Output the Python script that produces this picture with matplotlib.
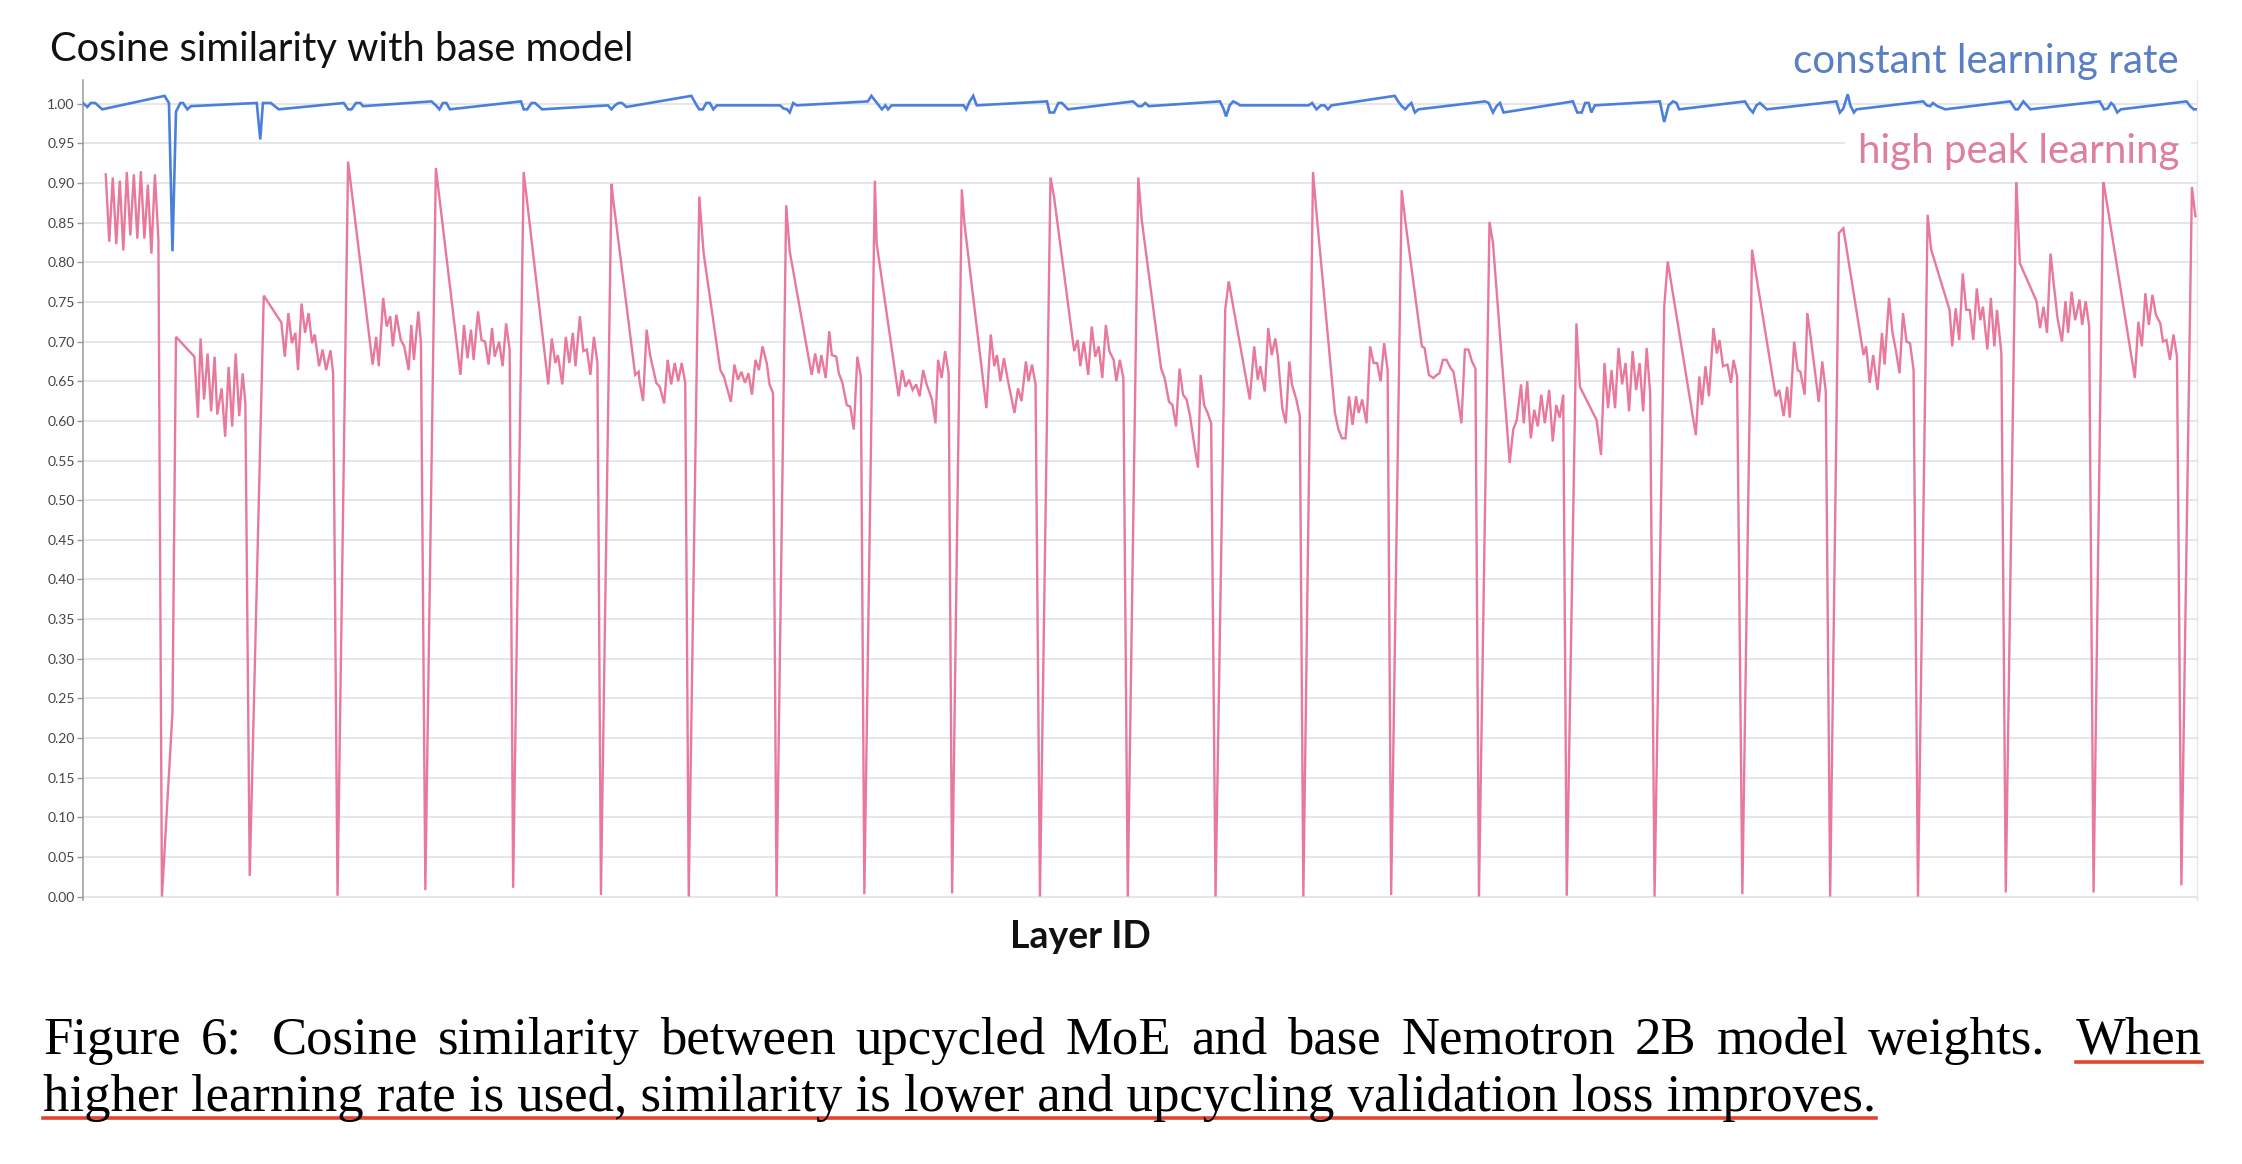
import matplotlib
matplotlib.use("Agg")
import numpy as np
import matplotlib.pyplot as plt
from matplotlib.lines import Line2D

# points per layer: (position inside the layer in 1/100 of a layer, cosine similarity)
# layer 0 is the part before the first layer boundary
pink_layers = [
    [(36, .911), (40, .826), (44, .907), (48, .823), (52, .903), (56, .815), (60, .914), (64, .834),
     (68, .911), (72, .830), (76, .915), (80, .830), (84, .898), (88, .811), (92, .911), (96, .828)],
    [(0, .000), (12, .232), (16, .706), (37, .681), (41, .604), (44, .704), (48, .627), (52, .685), (56, .612),
     (60, .681), (63, .608), (68, .641), (72, .580), (76, .668), (80, .593), (84, .685), (88, .606), (92, .660), (95, .622)],
    [(0, .026), (16, .758), (36, .724), (40, .681), (44, .736), (48, .698), (52, .711), (55, .664), (59, .748),
     (63, .711), (67, .736), (71, .698), (74, .709), (79, .669), (83, .690), (87, .664), (92, .689), (95, .660)],
    [(0, .001), (12, .927), (40, .671), (44, .706), (47, .669), (52, .755), (56, .719), (60, .732), (63, .694),
     (67, .734), (72, .702), (76, .694), (81, .664), (84, .721), (87, .677), (92, .738), (95, .698)],
    [(0, .008), (12, .919), (40, .658), (44, .721), (48, .679), (52, .715), (55, .677), (60, .738), (64, .702),
     (68, .700), (72, .671), (76, .717), (79, .681), (84, .700), (88, .669), (92, .723), (96, .690)],
    [(0, .011), (12, .914), (40, .646), (44, .704), (48, .673), (51, .683), (56, .646), (60, .706), (64, .673),
     (68, .711), (71, .669), (76, .732), (80, .688), (84, .690), (88, .658), (92, .706), (96, .673)],
    [(0, .002), (12, .899), (14, .879), (39, .658), (43, .662), (44, .650), (48, .625), (52, .715), (56, .683),
     (63, .648), (67, .643), (72, .622), (76, .677), (80, .646), (84, .673), (88, .650), (92, .673), (96, .648)],
    [(0, .000), (12, .883), (17, .811), (36, .664), (40, .656), (48, .624), (52, .671), (56, .652), (60, .662),
     (64, .648), (68, .660), (72, .633), (76, .677), (80, .664), (84, .694), (89, .672), (92, .646), (96, .635)],
    [(0, .000), (11, .872), (15, .814), (40, .658), (44, .685), (48, .660), (51, .683), (56, .654), (60, .713),
     (63, .683), (68, .681), (71, .660), (75, .648), (80, .620), (84, .618), (88, .589), (92, .681), (96, .656)],
    [(0, .003), (12, .903), (14, .824), (39, .631), (43, .664), (47, .643), (51, .652), (55, .639), (59, .646),
     (63, .631), (67, .664), (71, .646), (77, .627), (81, .597), (84, .677), (88, .654), (92, .688), (96, .660)],
    [(0, .004), (11, .892), (14, .849), (39, .616), (44, .709), (48, .669), (51, .683), (55, .650), (59, .679),
     (64, .648), (71, .610), (75, .641), (79, .625), (84, .675), (87, .650), (91, .671), (95, .646)],
    [(0, .000), (12, .907), (16, .883), (39, .688), (43, .702), (46, .669), (50, .700), (55, .658), (59, .719),
     (63, .681), (67, .694), (71, .654), (75, .721), (79, .688), (84, .677), (87, .650), (91, .677), (95, .654)],
    [(0, .000), (12, .907), (16, .853), (38, .666), (42, .654), (47, .624), (51, .620), (55, .593), (59, .666),
     (63, .633), (67, .627), (71, .606), (76, .568), (80, .541), (83, .658), (87, .620), (91, .610), (95, .597)],
    [(0, .000), (11, .740), (15, .776), (39, .627), (44, .694), (48, .652), (51, .669), (56, .637), (60, .717),
     (64, .683), (68, .704), (71, .681), (76, .616), (80, .597), (84, .675), (87, .646), (92, .627), (96, .606)],
    [(0, .000), (11, .914), (15, .862), (36, .610), (40, .589), (44, .578), (48, .578), (52, .631), (56, .595),
     (60, .631), (63, .610), (67, .627), (72, .597), (76, .694), (80, .673), (84, .673), (88, .650), (92, .698), (96, .664)],
    [(0, .002), (12, .891), (16, .853), (35, .694), (38, .692), (43, .658), (48, .654), (52, .658), (55, .660),
     (59, .677), (63, .677), (68, .666), (71, .662), (75, .635), (80, .597), (84, .690), (88, .690), (92, .675), (96, .666)],
    [(0, .000), (12, .851), (16, .824), (35, .547), (39, .589), (43, .601), (48, .646), (51, .597), (55, .650),
     (59, .578), (63, .614), (67, .593), (71, .633), (75, .597), (80, .639), (84, .574), (88, .620), (92, .604), (96, .633)],
    [(0, .001), (11, .723), (15, .643), (34, .601), (39, .557), (43, .673), (47, .616), (51, .664), (55, .616),
     (59, .692), (63, .646), (67, .673), (71, .612), (75, .688), (79, .639), (83, .673), (87, .612), (91, .692), (95, .635)],
    [(0, .000), (11, .744), (15, .801), (47, .582), (51, .656), (54, .620), (58, .669), (62, .631), (67, .717),
     (71, .685), (74, .702), (78, .669), (83, .671), (87, .648), (90, .677), (94, .656)],
    [(0, .003), (11, .816), (38, .631), (42, .639), (47, .606), (51, .643), (54, .604), (59, .700), (63, .664),
     (66, .662), (71, .633), (74, .736), (78, .704), (83, .660), (87, .624), (91, .675), (95, .637)],
    [(0, .000), (10, .837), (15, .843), (38, .683), (41, .694), (45, .648), (49, .683), (54, .639), (59, .711),
     (62, .671), (67, .755), (71, .711), (75, .688), (79, .660), (83, .736), (87, .700), (91, .698), (95, .664)],
    [(0, .000), (11, .860), (15, .816), (36, .740), (39, .694), (43, .742), (47, .702), (51, .786), (55, .740),
     (59, .740), (63, .702), (67, .767), (71, .727), (74, .744), (79, .690), (83, .755), (87, .694), (90, .740), (95, .685)],
    [(0, .005), (12, .905), (16, .799), (35, .751), (39, .717), (43, .744), (47, .711), (51, .811), (55, .769),
     (59, .729), (64, .700), (68, .751), (71, .711), (75, .763), (79, .727), (84, .753), (87, .721), (91, .751), (95, .719)],
    [(0, .005), (11, .904), (43, .681), (47, .654), (51, .725), (55, .694), (59, .761), (63, .721), (67, .759),
     (71, .734), (76, .723), (79, .700), (83, .702), (87, .677), (91, .709), (95, .681)],
    [(0, .014), (12, .895), (16, .858)],
]

blue_layers = [
    [(10, 1.001), (15, .996), (19, 1.001), (24, 1.001), (32, .993)],
    [(3, 1.010), (8, 1.001), (12, .814), (16, .990), (21, 1.001), (24, 1.001), (29, .993), (33, .997)],
    [(8, 1.001), (12, .955), (15, 1.001), (24, 1.001), (33, .993)],
    [(7, 1.001), (12, .993), (16, .993), (21, 1.001), (26, 1.001), (29, .997)],
    [(7, 1.003), (12, .998), (16, .993), (20, 1.001), (24, 1.001), (28, .993)],
    [(9, 1.003), (12, .993), (16, .993), (21, 1.001), (25, 1.001), (33, .993)],
    [(8, .998), (12, .993), (16, .998), (20, 1.001), (24, 1.001), (29, .996)],
    [(3, 1.010), (9, .998), (12, .993), (16, .993), (20, 1.001), (24, 1.001), (28, .993), (32, .998)],
    [(4, .998), (8, .994), (12, .993), (15, .989), (19, 1.001), (23, .998)],
    [(4, 1.003), (8, 1.010), (13, 1.003), (20, .993), (24, .998), (27, .993), (31, .998)],
    [(13, .998), (16, .993), (20, 1.003), (24, 1.010), (28, .998)],
    [(8, 1.003), (11, .989), (16, .989), (21, 1.001), (25, 1.001), (32, .993)],
    [(6, 1.003), (12, .997), (16, .997), (20, 1.001), (24, .997)],
    [(5, 1.003), (9, .994), (12, .984), (16, .998), (20, 1.003), (24, 1.001), (28, .998)],
    [(6, .998), (10, 1.001), (15, .993), (20, .998), (24, .998), (28, .993), (32, .998)],
    [(4, 1.010), (8, 1.003), (12, .997), (16, .993), (20, .998), (23, 1.001), (27, .989), (31, .993)],
    [(7, 1.003), (11, 1.001), (16, .989), (20, .997), (24, 1.001), (28, .989)],
    [(7, 1.003), (12, .989), (17, .989), (21, 1.001), (25, 1.001), (28, .989), (32, .998)],
    [(6, 1.003), (11, .977), (16, .998), (21, 1.003), (25, 1.001), (28, .993)],
    [(3, 1.003), (8, .994), (12, .989), (16, .998), (20, 1.001), (28, .993)],
    [(7, 1.003), (11, .989), (15, .994), (20, 1.012), (23, .998), (27, .989), (30, .993)],
    [(6, 1.003), (10, .998), (14, .997), (17, 1.001), (22, .997), (31, .993)],
    [(5, 1.003), (11, .993), (14, .993), (20, 1.003), (24, .998), (28, .993)],
    [(7, 1.003), (12, .993), (16, .994), (20, 1.001), (23, .998), (27, .989), (31, .993)],
    [(6, 1.003), (10, .997), (14, .993), (18, .993)],
]

title = "Cosine similarity with base model"
label_blue = "constant learning rate"
label_pink = "high peak learning"
xlabel = "Layer ID"
caption1 = ["Figure", "6:", "Cosine", "similarity", "between", "upcycled", "MoE", "and", "base",
            "Nemotron", "2B", "model", "weights.", "When"]
caption2 = "higher learning rate is used, similarity is lower and upcycling validation loss improves."

BLUE = "#4a80dc"
PINK = "#e8799b"


def flatten(layers):
    xs, ys = [], []
    for k, pts in enumerate(layers):
        for off, v in pts:
            xs.append(k + off / 100)
            ys.append(v)
    return xs, ys


W, H = 2242, 1164
fig = plt.figure(figsize=(W / 100, H / 100), dpi=100)
ax = fig.add_axes([83 / W, 1 - 899.7 / H, (2197 - 83) / W, (899.7 - 80) / H])

px, py = flatten(pink_layers)
bx, by = flatten(blue_layers)
ax.plot(px, py, color=PINK, lw=1.7, solid_joinstyle="miter", zorder=3)
ax.plot(bx, by, color=BLUE, lw=1.9, solid_joinstyle="miter", zorder=4)

ax.set_xlim(0.101, 24.178)
ax.set_ylim(-0.004, 1.03)
ax.set_yticks(np.arange(0, 1.001, 0.05))
ax.set_yticklabels([f"{v:.2f}" for v in np.arange(0, 1.001, 0.05)])
ax.set_xticks([])
ax.yaxis.grid(True, color="#e2e2e2", lw=1.2)
ax.set_axisbelow(True)
ax.tick_params(axis="y", length=4, width=1, color="#999999", pad=2,
               labelsize=10, labelcolor="#444444")
for lab in ax.get_yticklabels():
    lab.set_family("Lato")
ax.spines["top"].set_visible(False)
ax.spines["bottom"].set_visible(False)
ax.spines["left"].set_color("#9a9a9a")
ax.spines["left"].set_linewidth(1.1)
ax.spines["right"].set_color("#e6e6e6")
ax.spines["right"].set_linewidth(1.0)

fig.text(50 / W, 1 - 50 / H, title, family="Lato", fontsize=28.7, color="#111111",
         ha="left", va="center")
fig.text(2179 / W, 1 - 62 / H, label_blue, family="Lato", fontsize=29, color="#5a7fc3",
         ha="right", va="center")
fig.text(2179 / W, 1 - 151 / H, label_pink, family="Lato", fontsize=29, color="#dd809f",
         ha="right", va="center",
         bbox=dict(boxstyle="square,pad=0.3", fc="white", ec="none"))
fig.text(1080 / W, 1 - 937 / H, xlabel, family="Lato", fontsize=27, fontweight="bold",
         color="#111111", ha="center", va="center")

# caption, first line justified between the margins
cap_kw = dict(family="Liberation Serif", fontsize=38, color="black", va="baseline", ha="left")
left, right = 43, 2202
words = [fig.text(0, 1 - 1054 / H, w, **cap_kw) for w in caption1]
fig.canvas.draw()
r = fig.canvas.get_renderer()
widths = [t.get_window_extent(r).width for t in words]
weights = [1.5 if w.endswith((".", ":")) else 1.0 for w in caption1[:-1]]
unit = (right - left - sum(widths)) / sum(weights)
x = left
for t, w, g in zip(words, widths, weights + [0]):
    t.set_x(x / W)
    x += w + g * unit
line2 = fig.text(left / W, 1 - 1111 / H, caption2, **cap_kw)
fig.canvas.draw()
e2 = line2.get_window_extent(r)
ew = words[-1].get_window_extent(r)

RED = "#e0452f"
fig.add_artist(Line2D([ew.x0 / W, ew.x1 / W], [1 - 1062 / H] * 2, color=RED, lw=2.6,
                      transform=fig.transFigure))
fig.add_artist(Line2D([left / W, e2.x1 / W], [1 - 1118 / H] * 2, color=RED, lw=2.6,
                      transform=fig.transFigure))

fig.savefig("out.png", dpi=100)
